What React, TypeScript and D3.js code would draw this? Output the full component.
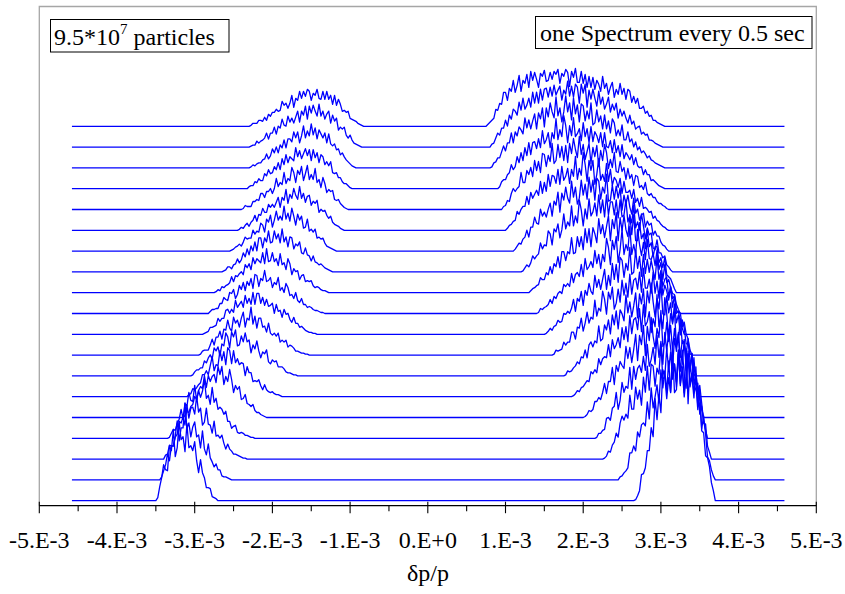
import React from "react";
import * as d3 from "d3";

// x values are in units of 1E-3 (δp/p), heights in counts above each spectrum's baseline
const TICK_VALUES = [-5, -4, -3, -2, -1, 0, 1, 2, 3, 4, 5];
const TICK_LABELS = ["-5.E-3", "-4.E-3", "-3.E-3", "-2.E-3", "-1.E-3", "0.E+0", "1.E-3", "2.E-3", "3.E-3", "4.E-3", "5.E-3"];
const MINOR_TICKS = [-4.5, -3.5, -2.5, -1.5, -0.5, 0.5, 1.5, 2.5, 3.5, 4.5];
const TRACE_RANGE = [-4.58, 4.59];
const SAMPLE_STEP = 0.025;
const SPECTRUM_OFFSET = 20.8;

const LEFT_START = [-3.5, -3.45, -3.4, -3.35, -3.15, -3.1, -3.05, -2.95, -2.9, -2.85, -2.75, -2.65, -2.55, -2.45, -2.4, -2.35, -2.3, -2.3, -2.3];
const LEFT_PEAK = [
  [0,3,14,23,36,31,30,55,50,71,44,53,79,61,64,49,77,53,55,50,59,40,28,41,28,23,13,13,12,4,3,2,0],
  [0,3,9,15,26,19,34,34,44,59,39,52,52,77,51,57,43,53,58,43,45,32,49,31,25,36,22,18,13,16,10,10,4,3,3,2,1,0,0],
  [0,4,5,14,13,13,22,25,38,36,42,34,54,41,51,52,45,63,47,51,34,37,51,35,34,26,38,23,24,21,24,16,10,15,10,8,5,5,4,3,2,1,1,0,0],
  [0,1,5,9,8,15,19,29,20,35,32,46,38,37,53,38,48,41,47,59,40,43,34,51,36,40,29,31,29,24,27,17,17,10,12,13,6,5,6,5,3,3,2,1,1,0,0],
  [0,2,6,5,11,13,21,18,27,31,29,42,30,42,36,41,43,35,51,43,51,33,41,36,48,38,25,32,28,31,18,19,23,14,13,11,13,7,5,5,3,2,1,0,0],
  [0,2,3,8,7,9,12,14,22,22,26,22,31,40,26,32,31,46,36,45,32,49,46,33,46,34,38,32,34,33,21,30,24,24,15,16,15,17,11,7,12,7,5,4,5,3,2,2,1,0,0],
  [0,1,4,6,6,8,8,15,13,18,21,17,28,25,29,20,32,30,43,39,28,44,39,46,30,31,40,34,43,34,36,23,31,27,35,25,18,24,22,26,14,12,16,14,15,9,9,9,7,4,3,3,2,1,1,0,0],
  [0,1,4,5,5,5,10,16,10,18,18,24,16,26,25,35,27,24,38,32,35,28,37,43,28,37,35,48,31,39,27,37,37,28,29,23,32,22,20,22,19,22,13,15,13,15,8,10,9,7,4,4,3,2,2,1,1,0,0],
  [0,1,2,3,7,7,8,9,16,13,16,16,24,25,21,25,22,34,27,30,33,27,39,31,36,30,42,30,41,41,31,37,29,35,28,29,31,21,30,23,24,17,25,20,21,15,12,17,11,11,7,8,6,4,3,2,2,1,1,0,0],
  [0,0,2,4,4,5,5,10,10,16,14,13,21,20,24,15,19,28,24,31,23,32,28,35,25,39,38,27,35,33,43,32,33,36,26,31,29,36,23,26,21,30,26,18,19,15,21,13,11,15,9,9,6,7,6,4,3,3,2,1,1,0,0],
  [0,1,3,2,6,5,7,8,10,16,11,17,16,19,21,18,28,25,29,23,35,29,34,32,30,40,29,44,31,32,40,31,34,27,39,28,30,23,34,29,18,24,21,22,13,17,18,11,12,11,12,7,5,6,5,3,2,2,1,0,0],
  [0,1,2,5,5,3,7,8,13,9,12,19,15,23,17,26,21,30,21,34,34,24,34,30,41,29,30,41,33,38,29,43,30,35,25,35,34,23,28,26,30,19,18,24,17,16,11,16,10,9,7,8,6,4,3,2,1,0,0],
  [0,1,2,4,5,7,5,9,14,12,13,13,21,17,20,19,28,26,19,32,29,36,24,31,40,31,35,31,45,32,38,30,43,35,26,37,31,35,23,24,32,20,22,19,22,13,14,12,13,8,5,4,3,2,1,0,0],
  [0,1,3,2,5,7,4,8,10,15,9,16,15,22,18,18,26,23,26,23,28,33,23,33,30,41,27,36,32,42,35,31,44,32,37,28,34,35,25,29,27,30,18,21,19,20,15,12,14,8,6,5,4,2,1,0,0],
  [0,1,4,3,3,3,8,8,10,9,16,16,12,18,18,21,16,21,31,23,27,25,37,26,31,29,42,37,27,39,35,43,29,36,44,30,35,30,41,27,30,22,32,26,17,20,18,19,10,9,10,6,4,2,1,0,0],
  [0,0,2,3,3,7,6,10,8,8,15,13,19,15,16,22,19,26,19,30,24,34,26,32,30,28,41,32,38,30,35,40,33,39,28,39,31,36,26,34,32,24,27,23,27,16,15,16,11,11,7,5,5,3,1,0,0],
  [0,1,3,2,4,5,5,8,9,14,9,12,19,15,21,15,23,20,28,20,29,29,26,36,30,36,25,32,42,30,37,32,44,33,40,29,38,34,30,35,25,34,24,22,24,18,19,13,15,11,8,6,4,2,1,0,0],
  [0,1,2,2,6,4,6,7,9,14,8,14,14,20,13,21,19,28,22,21,31,25,29,24,30,36,25,36,32,41,28,41,34,42,36,31,43,31,36,28,33,36,24,32,26,29,17,20,18,20,12,9,12,7,4,3,2,1,0],
  [0,1,3,3,3,6,6,5,9,6,12,10,14,14,17,15,16,25,21,23,18,23,31,19,28,26,35,28,35,30,37,35,26,33,31,37,28,27,35,27,35,27,31,22,31,21,27,22,15,16,14,15,8,7,6,5,3,2,1,0,0],
];

const RIGHT_START = [2.65, 2.45, 2.25, 2.15, 2.0, 1.85, 1.75, 1.6, 1.5, 1.4, 1.3, 1.2, 1.1, 1.0, 0.95, 0.9, 0.8, 0.8, 0.75];
const RIGHT_PEAK = [
  [0,1,5,10,26,27,33,50,50,73,64,102,81,106,88,131,124,102,123,108,151,108,111,150,115,134,108,152,97,139,120,143,116,91,111,70,68,45,43,34,18,10,0],
  [0,3,4,7,9,12,27,27,34,29,48,43,55,57,54,78,61,92,72,83,95,77,110,92,109,88,119,88,116,116,98,130,96,111,83,103,129,93,104,82,113,73,77,51,64,46,23,19,10,4,0],
  [0,1,3,8,7,14,17,26,22,36,43,39,45,41,64,50,50,72,60,69,54,82,67,93,69,95,93,73,91,85,115,80,82,111,89,107,80,95,72,105,89,109,85,71,105,75,86,66,71,76,45,53,36,35,13,7,0],
  [0,1,5,5,8,9,20,21,18,30,32,46,29,38,56,46,52,50,71,49,72,59,70,73,66,82,68,94,72,79,91,74,103,81,97,74,106,87,107,90,70,100,87,104,67,74,99,68,76,67,85,54,58,44,53,35,17,8,0],
  [0,1,3,7,6,8,16,16,20,18,25,34,24,36,36,50,33,52,46,56,52,49,71,59,70,55,68,83,57,82,73,92,62,91,77,100,81,69,89,80,107,71,75,95,76,92,67,89,71,85,60,77,75,55,64,48,64,39,33,31,19,9,0],
  [0,1,3,6,5,9,10,13,16,15,25,23,27,24,38,32,38,40,39,52,40,57,48,52,59,49,69,57,70,55,81,63,77,79,67,88,65,92,71,75,85,64,78,70,102,70,81,68,99,83,59,83,74,85,52,57,78,53,55,42,58,36,35,21,23,8,0],
  [0,1,5,4,5,8,10,14,12,19,18,26,18,31,34,29,35,33,50,35,37,51,46,56,42,61,51,65,47,66,62,55,81,63,74,59,70,83,58,82,72,87,59,85,73,93,74,59,77,67,93,62,61,80,63,73,52,72,53,61,41,56,48,32,32,22,21,7,0],
  [0,1,5,4,5,6,13,10,13,13,23,23,16,28,27,37,24,32,43,32,38,36,55,39,47,44,64,56,41,63,56,68,46,52,66,53,75,60,72,58,81,61,75,77,66,83,63,87,67,67,76,62,83,62,74,57,81,60,70,64,55,68,48,60,45,43,42,28,33,21,16,5,0],
  [0,1,3,6,4,8,9,14,12,13,21,20,23,21,26,35,23,36,33,43,29,44,39,51,43,40,59,47,55,45,55,65,45,59,49,71,55,70,52,77,74,57,71,64,87,60,62,84,66,78,58,80,61,75,62,74,64,55,77,55,64,48,55,57,37,48,36,38,21,23,13,6,0],
  [0,1,5,4,6,7,9,14,10,17,15,20,22,20,29,27,30,27,40,31,39,41,37,49,37,55,44,47,52,46,63,50,59,45,59,52,75,66,49,73,64,77,51,64,84,59,69,63,87,59,69,59,84,69,58,71,54,74,55,54,60,48,63,44,51,34,49,31,34,26,20,19,9,4,0],
  [0,2,4,5,7,8,15,13,13,20,18,26,19,29,26,36,25,41,41,32,41,39,55,39,40,56,46,56,43,64,50,64,46,65,59,50,74,59,68,55,66,77,52,73,64,80,52,75,62,77,63,56,78,58,78,52,52,70,54,59,44,63,46,50,36,46,46,30,35,25,35,18,16,14,9,4,0],
  [0,1,4,7,5,9,16,13,16,18,29,23,27,26,41,38,27,43,40,48,34,42,58,43,50,46,66,46,56,49,72,62,46,63,53,73,56,60,69,56,77,59,72,55,77,57,70,70,57,72,54,72,55,57,72,50,56,49,67,44,50,42,58,46,33,44,37,39,24,22,32,19,19,14,16,7,5,2,0],
  [0,2,5,8,7,12,14,21,14,24,24,34,28,27,42,35,39,34,42,48,35,50,46,59,39,58,51,64,53,48,70,54,64,47,53,71,56,67,52,74,59,71,51,73,70,52,64,58,77,50,51,66,52,65,53,63,41,56,47,56,44,37,53,38,42,31,36,38,24,30,26,28,16,20,15,15,9,6,5,2,0],
  [0,2,5,6,9,10,19,16,21,24,24,34,26,38,32,36,40,35,49,37,48,39,56,44,55,54,47,61,46,64,50,54,62,47,61,54,74,51,62,55,78,66,49,70,60,70,46,56,72,50,56,49,67,49,61,45,53,50,43,52,37,49,38,38,40,32,41,28,32,24,33,22,23,21,18,19,12,14,10,9,6,4,3,1,0],
  [0,3,4,9,8,16,21,18,21,23,37,27,27,39,35,42,33,49,39,48,37,56,55,43,54,48,66,46,49,65,52,63,49,64,47,66,56,71,60,52,73,55,65,50,58,66,46,62,53,64,43,59,49,65,57,41,50,42,57,38,37,48,38,42,30,41,31,35,24,34,33,22,24,20,27,16,14,16,12,12,8,6,6,4,3,1,0],
  [0,2,7,9,9,14,16,24,19,22,32,26,36,28,41,33,46,34,46,47,40,50,41,58,45,49,56,41,56,50,70,49,59,52,73,63,46,63,53,71,52,55,60,48,66,52,60,46,62,47,57,53,46,56,42,56,42,41,48,36,49,36,43,32,44,30,36,33,29,34,24,31,23,21,22,14,19,14,14,8,9,7,5,3,2,1,0],
  [0,1,5,6,10,10,16,22,17,25,25,35,25,36,32,41,38,34,50,40,48,39,47,54,39,55,49,60,41,60,51,65,56,50,71,52,60,46,56,72,56,65,48,70,54,63,46,64,62,47,57,49,65,43,45,58,46,52,39,53,39,47,35,49,45,32,38,32,43,28,28,36,26,29,21,26,18,21,15,17,14,10,12,8,7,5,4,3,2,1,0],
  [0,3,4,9,14,12,19,19,27,21,32,28,38,36,32,45,37,49,38,42,49,40,55,44,55,44,58,47,58,59,50,60,51,62,52,57,61,47,57,53,66,51,61,50,63,60,44,63,54,63,40,57,48,58,49,41,56,43,50,38,43,50,35,43,37,44,29,38,31,36,29,24,32,23,26,18,20,21,13,15,12,13,7,7,6,4,3,2,1,0,0],
  [0,2,4,6,8,17,16,23,22,34,34,26,38,35,46,34,41,51,35,46,43,52,39,55,46,54,47,39,53,50,56,45,46,54,47,55,52,57,43,53,50,57,54,40,55,49,58,44,44,55,43,52,39,50,39,49,37,46,42,35,50,38,43,32,39,44,29,37,32,43,32,38,27,37,35,24,30,23,28,18,18,20,13,15,10,11,6,6,4,3,2,1,0],
];

const TITLE_LEFT = "9.5*10";
const TITLE_LEFT_EXP = "7";
const TITLE_LEFT_TAIL = " particles";
const TITLE_RIGHT = "one Spectrum every 0.5 sec";
const X_TITLE = "δp/p";

const FONT = "'Liberation Serif', 'Times New Roman', Times, serif";

export default function App() {
  const W = 845;
  const H = 594;
  const x = d3.scaleLinear().domain([-5, 5]).range([39.3, 816.3]);
  const y = d3.scaleLinear().domain([0, 480]).range([500.7, 20.7]);
  const axisY = 505.7;
  const line = d3
    .line<[number, number]>()
    .x((d) => x(d[0]))
    .y((d) => y(d[1]));

  const paths = LEFT_START.map((ls, k) => {
    const base = k * SPECTRUM_OFFSET;
    const pts: [number, number][] = [];
    pts.push([TRACE_RANGE[0], base]);
    LEFT_PEAK[k].forEach((v, i) => pts.push([ls + i * SAMPLE_STEP, base + v]));
    RIGHT_PEAK[k].forEach((v, i) => pts.push([RIGHT_START[k] + i * SAMPLE_STEP, base + v]));
    pts.push([TRACE_RANGE[1], base]);
    return line(pts) || "";
  });

  return (
    <svg
      width={W}
      height={H}
      style={{ position: "absolute", left: 0, top: 0, background: "#fff" }}
      fontFamily={FONT}
    >
      <rect x={0} y={0} width={W} height={H} fill="#fff" />
      <path
        d={`M${x(-5)},${axisY} L${x(-5)},6.5 L${x(5)},6.5 L${x(5)},${axisY}`}
        fill="none"
        stroke="#a6a6a6"
        strokeWidth={1.3}
      />
      <g fill="none" stroke="#0000ff" strokeWidth={1.3} strokeLinejoin="round">
        {paths.map((d, i) => (
          <path key={i} d={d} />
        ))}
      </g>
      <line x1={x(-5)} x2={x(5)} y1={axisY} y2={axisY} stroke="#000" strokeWidth={1.3} />
      {TICK_VALUES.map((t) => (
        <line key={"M" + t} x1={x(t)} x2={x(t)} y1={axisY - 4} y2={axisY + 7.5} stroke="#000" strokeWidth={1.1} />
      ))}
      {MINOR_TICKS.map((t) => (
        <line key={"m" + t} x1={x(t)} x2={x(t)} y1={axisY} y2={axisY + 5.5} stroke="#000" strokeWidth={1.1} />
      ))}
      {TICK_VALUES.map((t, i) => (
        <text key={"L" + t} x={x(t)} y={548} textAnchor="middle" fontSize={24} fill="#000">
          {TICK_LABELS[i]}
        </text>
      ))}
      <text x={428} y={581} textAnchor="middle" fontSize={24} fill="#000">
        {X_TITLE}
      </text>
      <rect x={50.5} y={19.5} width={178.5} height={32.5} fill="#fff" stroke="#000" strokeWidth={1} />
      <text x={54} y={45} fontSize={24} fill="#000">
        {TITLE_LEFT}
        <tspan dy={-11.5} fontSize={15}>
          {TITLE_LEFT_EXP}
        </tspan>
        <tspan dy={11.5} fontSize={24}>
          {TITLE_LEFT_TAIL}
        </tspan>
      </text>
      <rect x={535.5} y={16.5} width={276.5} height={32} fill="#fff" stroke="#000" strokeWidth={1} />
      <text x={540} y={40.5} fontSize={24} fill="#000">
        {TITLE_RIGHT}
      </text>
    </svg>
  );
}
